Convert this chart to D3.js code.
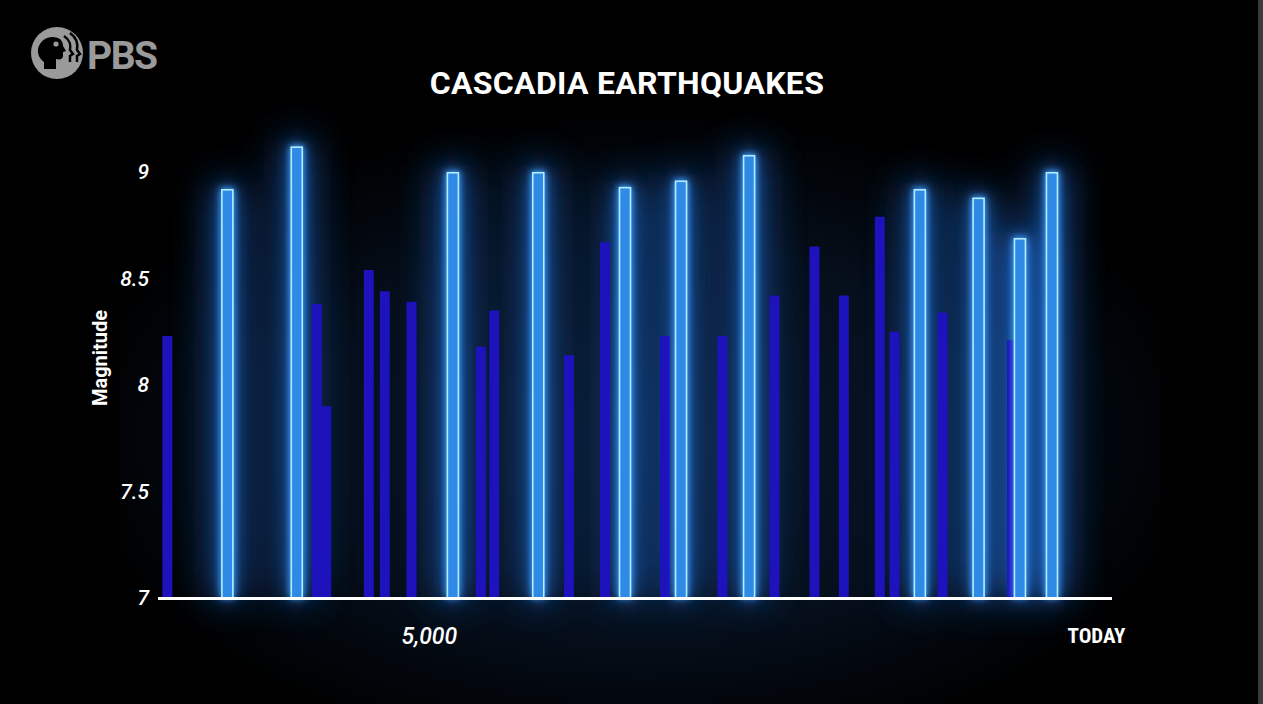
<!DOCTYPE html>
<html>
<head>
<meta charset="utf-8">
<style>
  html, body { margin: 0; padding: 0; background: #000; }
  svg { display: block; }
  .tick text { font-family: Roboto, "Liberation Sans", sans-serif; font-style: italic; font-weight: 500; fill: #fff; }
</style>
</head>
<body>
<svg width="1263" height="704"></svg>
<script src="https://d3js.org/d3.v7.min.js"></script>
<script>

// smaller events (years before today, magnitude)
var minorYears = [6960, 5840, 5770, 5450, 5330, 5130, 4610, 4510, 3950, 3680, 3230, 2800, 2410, 2110, 1890, 1620, 1510, 1150, 630];
var minorMag   = [8.23, 8.38, 7.90, 8.54, 8.44, 8.39, 8.18, 8.35, 8.14, 8.67, 8.23, 8.23, 8.42, 8.65, 8.42, 8.79, 8.25, 8.34, 8.21];

// full-margin events
var majorYears = [6510, 5990, 4820, 4180, 3530, 3110, 2600, 1320, 880, 570, 330];
var majorMag   = [8.92, 9.12, 9.00, 9.00, 8.93, 8.96, 9.08, 8.92, 8.88, 8.69, 9.00];

var yTicks = [7, 7.5, 8, 8.5, 9];
var xTicks = [5000, 0];
var xTickLabels = ["5,000", "TODAY"];

var svg = d3.select("svg"),
    W = +svg.attr("width"),
    H = +svg.attr("height");

var x = d3.scaleLinear().domain([7030, -120]).range([158, 1112]);
var y = d3.scaleLinear().domain([7, 9]).range([598, 172]);

var minor = minorYears.map(function(d, i) { return {t: d, m: minorMag[i]}; });
var major = majorYears.map(function(d, i) { return {t: d, m: majorMag[i]}; });

var defs = svg.append("defs");

var bg = defs.append("radialGradient").attr("id", "bg")
    .attr("cx", "50%").attr("cy", "55%").attr("r", "55%");
bg.append("stop").attr("offset", "0%").attr("stop-color", "#0b1a30");
bg.append("stop").attr("offset", "60%").attr("stop-color", "#06101e");
bg.append("stop").attr("offset", "100%").attr("stop-color", "#000");

var wide = defs.append("filter").attr("id", "wide")
    .attr("x", "-600%").attr("y", "-40%").attr("width", "1300%").attr("height", "180%");
wide.append("feGaussianBlur").attr("stdDeviation", 20);

var mid = defs.append("filter").attr("id", "mid")
    .attr("x", "-300%").attr("y", "-25%").attr("width", "700%").attr("height", "150%");
mid.append("feGaussianBlur").attr("stdDeviation", 8);

var tight = defs.append("filter").attr("id", "tight")
    .attr("x", "-200%").attr("y", "-20%").attr("width", "500%").attr("height", "140%");
tight.append("feGaussianBlur").attr("stdDeviation", 3);

svg.append("rect").attr("width", W).attr("height", H).attr("fill", "#000");
svg.append("rect").attr("x", 120).attr("y", 110).attr("width", 1040).attr("height", 594)
    .attr("fill", "url(#bg)").attr("opacity", 0.9);

// frame edge on the right
svg.append("rect").attr("x", 1258).attr("y", 0).attr("width", 5).attr("height", H).attr("fill", "#3c3c3c");

// glow behind the big bars
svg.append("g").attr("filter", "url(#wide)").attr("opacity", 0.85)
  .selectAll("rect").data(major).enter().append("rect")
    .attr("x", function(d) { return x(d.t) - 14; })
    .attr("y", function(d) { return y(d.m) - 6; })
    .attr("width", 28)
    .attr("height", function(d) { return y(7) - y(d.m) + 6; })
    .attr("fill", "#1a5cb8");

svg.append("g").attr("filter", "url(#mid)").attr("opacity", 0.65)
  .selectAll("rect").data(major).enter().append("rect")
    .attr("x", function(d) { return x(d.t) - 8; })
    .attr("y", function(d) { return y(d.m) - 2; })
    .attr("width", 16)
    .attr("height", function(d) { return y(7) - y(d.m) + 2; })
    .attr("fill", "#2a78dc");

svg.append("g")
  .selectAll("rect").data(minor).enter().append("rect")
    .attr("x", function(d) { return x(d.t) - 5; })
    .attr("y", function(d) { return y(d.m); })
    .attr("width", 10)
    .attr("height", function(d) { return y(7) - y(d.m); })
    .attr("fill", "#1e12bc");

svg.append("g").attr("filter", "url(#tight)")
  .selectAll("rect").data(major).enter().append("rect")
    .attr("x", function(d) { return x(d.t) - 7; })
    .attr("y", function(d) { return y(d.m) - 1; })
    .attr("width", 14)
    .attr("height", function(d) { return y(7) - y(d.m) + 1; })
    .attr("fill", "#3aa0ff");

svg.append("g")
  .selectAll("rect").data(major).enter().append("rect")
    .attr("x", function(d) { return x(d.t) - 5.5; })
    .attr("y", function(d) { return y(d.m) + 0.75; })
    .attr("width", 11)
    .attr("height", function(d) { return y(7) - y(d.m) - 0.75; })
    .attr("fill", "#2f8ae6")
    .attr("stroke", "#b4ecff")
    .attr("stroke-width", 1.6);

// axes
svg.append("line")
    .attr("x1", x.range()[0]).attr("x2", x.range()[1])
    .attr("y1", y(7) + 0.5).attr("y2", y(7) + 0.5)
    .attr("stroke", "#fff").attr("stroke-width", 3);

var yAxis = svg.append("g")
    .attr("transform", "translate(" + x.range()[0] + ",0)")
    .call(d3.axisLeft(y).tickValues(yTicks).tickSize(0).tickPadding(9).tickFormat(d3.format("")));
yAxis.select(".domain").remove();
yAxis.selectAll("text").attr("font-size", 21);

var xAxis = svg.append("g")
    .attr("transform", "translate(0," + y(7) + ")")
    .call(d3.axisBottom(x).tickValues(xTicks).tickSize(0).tickPadding(30)
      .tickFormat(function(d, i) { return xTickLabels[i]; }));
xAxis.select(".domain").remove();
xAxis.selectAll("text").attr("font-size", 23);
xAxis.selectAll(".tick").filter(function(d) { return d === 0; }).select("text")
    .style("font-style", "normal")
    .style("font-weight", 700)
    .style("font-family", "'Liberation Sans Narrow', 'Roboto Condensed', 'DejaVu Sans Condensed', sans-serif")
    .attr("font-size", 21);

svg.append("text")
    .attr("transform", "translate(107,358) rotate(-90)")
    .attr("text-anchor", "middle")
    .attr("font-family", "Roboto, 'Liberation Sans', sans-serif")
    .attr("font-weight", 700)
    .attr("font-size", 20)
    .attr("fill", "#fff")
    .text("Magnitude");

svg.append("text")
    .attr("x", 627).attr("y", 94)
    .attr("text-anchor", "middle")
    .attr("font-family", "Roboto, 'Liberation Sans', sans-serif")
    .attr("font-weight", 700)
    .attr("font-size", 32)
    .attr("letter-spacing", 0.3)
    .attr("fill", "#fff")
    .text("CASCADIA EARTHQUAKES");

// PBS logo
var logo = svg.append("g").attr("fill", "#9a9a9a");
logo.append("circle").attr("cx", 57).attr("cy", 53).attr("r", 26);
logo.append("path").attr("fill", "#000")
    .attr("d", "M44,69 L44,62 C38,58 36,50 40,44 C44,37 54,35 60,39 C62,41 63,43 63,46 L66,51 L63,52 L63,56 C63,59 60,60 56,59 L56,69 Z");
logo.append("circle").attr("cx", 56).attr("cy", 44).attr("r", 2.6).attr("fill", "#9a9a9a");
logo.append("path").attr("fill", "none").attr("stroke", "#000").attr("stroke-width", 2.5)
    .attr("d", "M64,36 C70,40 71,46 70,50 L73,54 L70,56 L70,62 M70,33 C77,38 78,45 77,50 L80,54 L77,56 L77,62");
logo.append("text")
    .attr("x", 87).attr("y", 69)
    .attr("font-family", "Roboto, 'Liberation Sans', sans-serif")
    .attr("font-weight", 700)
    .attr("font-size", 39)
    .attr("letter-spacing", -1.5)
    .text("PBS");

</script>
</body>
</html>
